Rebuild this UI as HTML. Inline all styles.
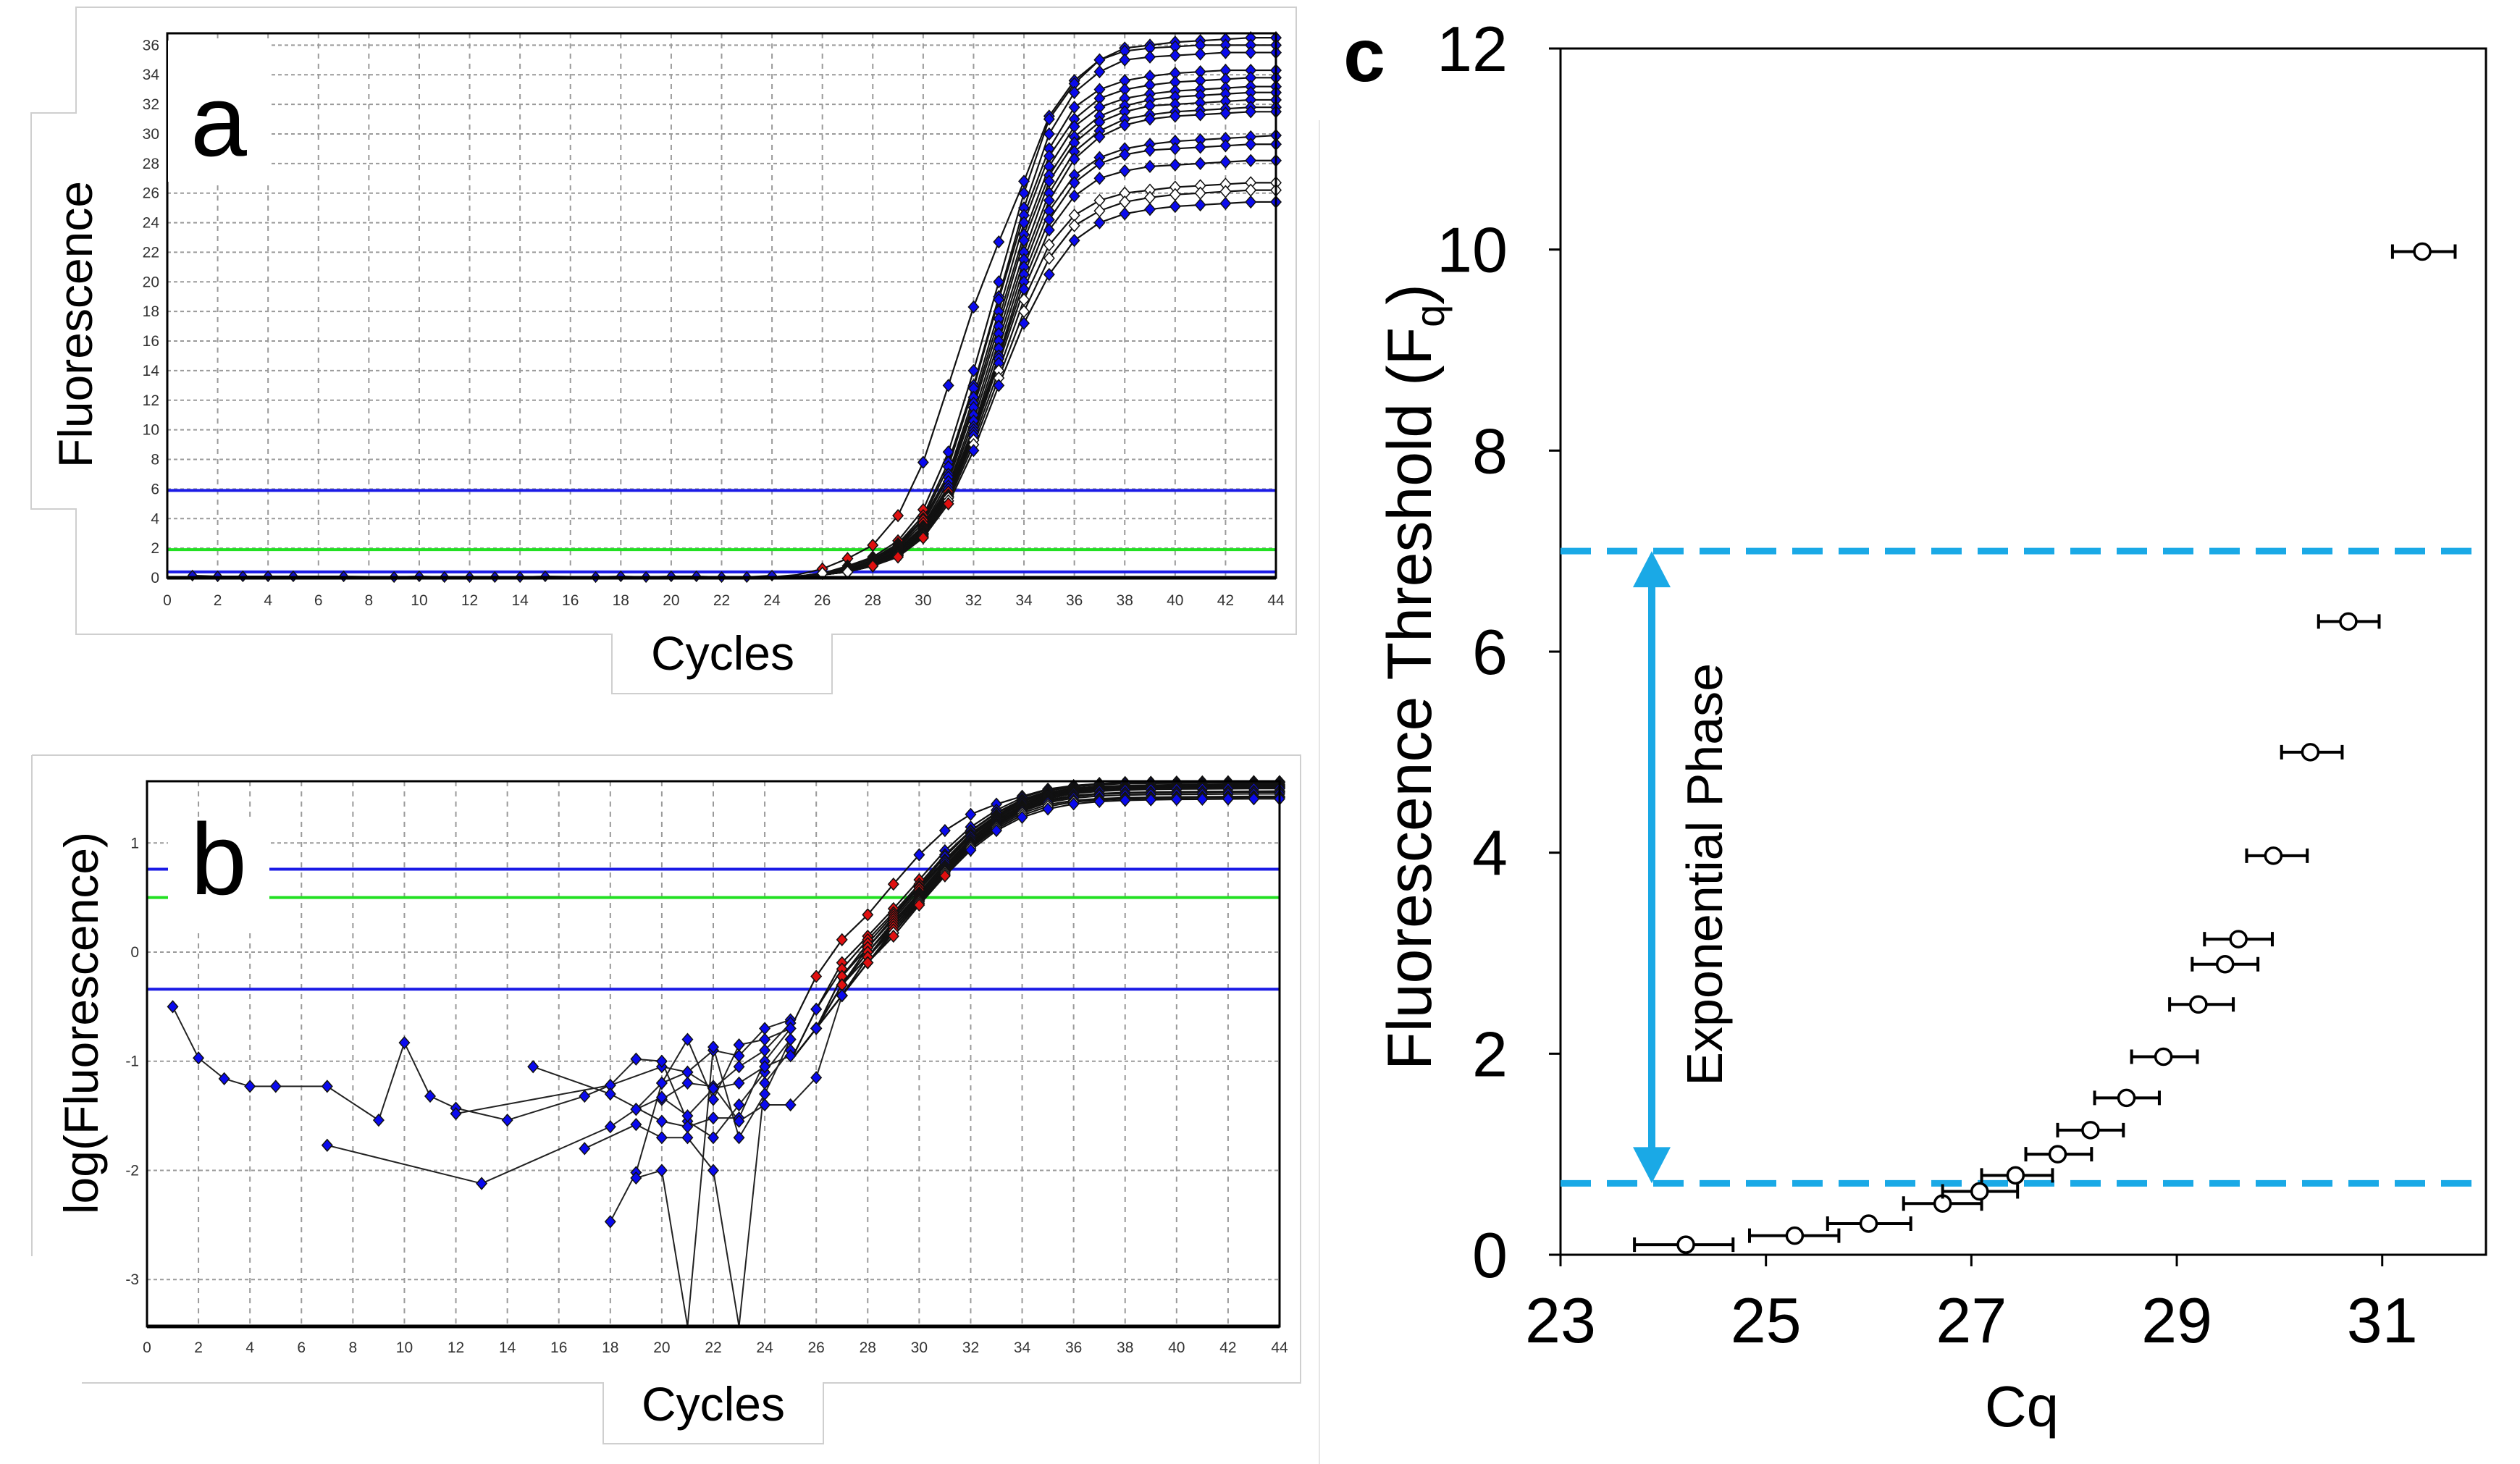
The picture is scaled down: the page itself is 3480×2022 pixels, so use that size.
<!DOCTYPE html>
<html><head><meta charset="utf-8">
<style>
html,body{margin:0;padding:0;background:#fff;}
svg{display:block;}
text{font-family:"Liberation Sans",Arial,sans-serif;}
</style></head>
<body>
<svg id="fig" xmlns="http://www.w3.org/2000/svg" width="3480" height="2022" viewBox="0 0 3480 2022">
  <rect x="0" y="0" width="3480" height="2022" fill="#fff"/>
  <path d="M105,10 H1790 V876 H1149 V958 H845 V876 H105 V703 H43 V156 H105 Z" fill="none" stroke="#cfcfcf" stroke-width="2"/>
  <path d="M44,1043 H1796 V1910 H1137 V1994 H833 V1910 H113 M44,1043 V1735" fill="none" stroke="#cfcfcf" stroke-width="2"/>
  <path d="M1822,166 V2022" fill="none" stroke="#e6e6e6" stroke-width="2"/>
  <g id="pa"></g>
  <g id="pb"></g>
  <g id="pc"></g>
</svg>
<script>
// ---------- Panel a data: fluorescence for cycles 25..44 ----------
const cyclesA = [25,26,27,28,29,30,31,32,33,34,35,36,37,38,39,40,41,42,43,44];
const curve01 = [0.2,0.6,1.3,2.2,4.2,7.8,13,18.3,22.7,26.8,31.2,33.6,35,35.8,36,36.2,36.3,36.4,36.5,36.5];
const curve02 = [0.1,0.3,0.8,1.4,2.5,4.6,8.5,14,20,26,31,33.4,35,35.6,35.8,35.9,36,36,36,36];
const curve03 = [0.1,0.3,0.7,1.3,2.3,4.2,7.8,13,19,25,30,32.8,34.2,35,35.2,35.3,35.4,35.5,35.5,35.5];
const curve04 = [0.1,0.2,0.6,1.2,2.2,4.0,7.5,12.8,18.8,24.5,29,31.8,33,33.6,33.9,34.1,34.2,34.3,34.3,34.3];
const curve05 = [0.1,0.2,0.6,1.1,2.1,3.9,7.0,12.2,18,24,28.5,31,32.4,33,33.3,33.5,33.6,33.7,33.8,33.8];
const curve06 = [0.1,0.2,0.5,1.1,2.0,3.7,6.8,11.8,17.5,23.2,27.8,30.5,31.8,32.4,32.7,32.9,33,33.1,33.2,33.2];
const curve07 = [0.1,0.2,0.5,1.0,1.9,3.5,6.5,11.5,17,22.8,27.2,29.8,31.2,31.9,32.3,32.5,32.6,32.7,32.8,32.8];
const curve08 = [0.1,0.2,0.5,1.0,1.8,3.4,6.2,11,16.5,22,26.8,29.4,30.8,31.5,31.9,32,32.1,32.2,32.3,32.3];
const curve09 = [0.1,0.2,0.5,0.9,1.8,3.3,6.0,10.6,16,21.5,26,28.8,30.2,31,31.3,31.5,31.6,31.7,31.8,31.8];
const curve10 = [0.1,0.2,0.4,0.9,1.7,3.2,5.8,10.2,15.5,21,25.5,28.3,29.8,30.6,31,31.2,31.3,31.4,31.5,31.5];
const curve11 = [0.1,0.2,0.4,0.9,1.7,3.1,5.8,10,15,20.5,24.8,27.2,28.4,29,29.3,29.5,29.6,29.7,29.8,29.9];
const curve12 = [0.1,0.2,0.4,0.9,1.6,3.0,5.6,9.8,14.8,20,24.2,26.7,28,28.6,28.9,29,29.1,29.2,29.3,29.3];
const curve13 = [0.1,0.2,0.4,0.8,1.6,3.0,5.5,9.6,14.5,19.5,23.5,25.8,27,27.5,27.8,27.9,28,28.1,28.2,28.2];
const curve14 = [0.1,0.2,0.4,0.8,1.5,2.9,5.4,9.3,14,18.8,22.5,24.5,25.5,26,26.2,26.4,26.5,26.6,26.7,26.7];
const curve15 = [0.1,0.2,0.4,0.8,1.5,2.8,5.2,9.0,13.5,18,21.6,23.8,24.8,25.4,25.7,25.9,26,26.1,26.2,26.2];
const curve16 = [0.1,0.2,0.4,0.8,1.4,2.7,5.0,8.6,13,17.2,20.5,22.8,24,24.6,24.9,25.1,25.2,25.3,25.4,25.4];
const curvesA = [curve01,curve02,curve03,curve04,curve05,curve06,curve07,curve08,curve09,curve10,curve11,curve12,curve13,curve14,curve15,curve16];
const whiteCurves = [13,14];
const baselineCycles = [1,2,3,4,5,7,9,10,11,12,13,14,15,17,18,19,20,21,22,23,24];
const baselineValue = [0.15,0.1,0.1,0.1,0.1,0.1,0.05,0.1,0.05,0.05,0.05,0.05,0.1,0.05,0.1,0.05,0.1,0.1,0.05,0.05,0.15];
const thresholdsA = [5.9, 1.9, 0.4];
const ticksAX = [0,2,4,6,8,10,12,14,16,18,20,22,24,26,28,30,32,34,36,38,40,42,44];
const ticksAY = [0,2,4,6,8,10,12,14,16,18,20,22,24,26,28,30,32,34,36];

// ---------- Panel b noisy baseline segments: [cycle, log value] ----------
const noise1 = [[1,-0.5],[2,-0.97],[3,-1.16],[4,-1.23],[5,-1.23],[7,-1.23],[9,-1.54],[10,-0.83],[11,-1.32],[12,-1.43],[14,-1.54],[17,-1.32],[18,-1.22],[20,-1.05],[21,-1.1],[22,-0.9],[23,-0.95],[24,-0.7],[25,-0.62]];
const noise2 = [[7,-1.77],[13,-2.12],[18,-1.6],[19,-1.44],[20,-1.2],[21,-1.1],[22,-1.25],[23,-1.05],[24,-0.9],[25,-0.65]];
const noise3 = [[12,-1.48],[18,-1.22],[19,-0.98],[20,-1.0],[21,-1.55],[22,-1.7],[23,-1.4],[24,-1.1],[25,-0.8]];
const noise4 = [[15,-1.05],[18,-1.3],[20,-1.55],[21,-1.6],[22,-1.52],[23,-1.52],[24,-1.0],[25,-0.7]];
const noise5 = [[18,-2.47],[19,-2.02],[20,-1.2],[21,-0.8],[22,-1.35],[23,-0.85],[24,-0.8],[25,-0.7]];
const noise6 = [[19,-2.07],[20,-2.0],[21,-4.0],[22,-0.87],[23,-1.7],[24,-1.3],[25,-0.8]];
const noise7 = [[17,-1.8],[19,-1.58],[20,-1.7],[21,-1.7],[22,-2.0],[23,-4.0],[24,-1.2],[25,-0.9]];
const noise8 = [[20,-1.35],[21,-1.2],[22,-1.23],[23,-1.55],[24,-1.4],[25,-1.4],[26,-1.15],[27,-0.4]];
const noise9 = [[19,-1.44],[20,-1.33],[21,-1.5],[22,-1.25],[23,-1.2],[24,-1.05],[25,-0.95]];
const noisesB = [noise1,noise2,noise3,noise4,noise5,noise6,noise7,noise8,noise9];
const thresholdsB = [0.76, 0.5, -0.34];
const ticksBX = ticksAX;
const ticksBY = [-3,-2,-1,0,1];

// ---------- Panel c data ----------
const cqMean = [24.22,25.28,26.0,26.72,27.08,27.43,27.84,28.16,28.51,28.87,29.21,29.47,29.6,29.94,30.3,30.67,31.39];
const cqLow  = [23.72,24.84,25.6,26.34,26.72,27.1,27.53,27.84,28.2,28.56,28.93,29.15,29.27,29.68,30.02,30.38,31.1];
const cqHigh = [24.68,25.71,26.41,27.1,27.45,27.79,28.17,28.48,28.83,29.2,29.55,29.79,29.93,30.27,30.61,30.97,31.71];
const fqVal  = [0.1,0.19,0.31,0.51,0.63,0.79,1.0,1.24,1.56,1.97,2.49,2.89,3.14,3.97,5.0,6.3,9.98];
const phaseBounds = [0.71, 7.0];
const ticksCX = [23,25,27,29,31];
const ticksCY = [0,2,4,6,8,10,12];

const NS = "http://www.w3.org/2000/svg";
function mk(parent, tag, attrs){ const e=document.createElementNS(NS,tag); for(const k in attrs) e.setAttribute(k,attrs[k]); parent.appendChild(e); return e; }

// ================= Panel A =================
(function(){
  const g = document.getElementById('pa');
  const L=231,R=1762,T=46,B=798, yMax=36.8;
  const sx = c => L + (c/44)*(R-L);
  const sy = v => B - (Math.max(0,Math.min(v,yMax))/yMax)*(B-T);
  for(const t of ticksAX){ if(t===0||t===44) continue;
    const l=mk(g,'line',{x1:sx(t),x2:sx(t),y1:T,y2:B,stroke:'#9a9a9a','stroke-width':2,'stroke-dasharray':'7 7'});
      }
  for(const t of ticksAY){ if(t===0) continue;
    const l=mk(g,'line',{x1:L,x2:R,y1:sy(t),y2:sy(t),stroke:'#9a9a9a','stroke-width':2,'stroke-dasharray':'5 4'});
      }
  for(const t of ticksAX){
    const tx=mk(g,'text',{x:sx(t),y:836,'font-size':21,'text-anchor':'middle',fill:'#333'}); tx.textContent=t;
      }
  for(const t of ticksAY){
    const tx=mk(g,'text',{x:220,y:sy(t)+7,'font-size':21,'text-anchor':'end',fill:'#333'}); tx.textContent=t;
      }
  const tc=['#1a1ae6','#22e022','#1a1ae6'];
  thresholdsA.forEach((v,i)=>{ const l=mk(g,'line',{x1:L,x2:R,y1:sy(v),y2:sy(v),stroke:tc[i],'stroke-width':4});
      });
  const bpts = baselineCycles.map((c,i)=>sx(c)+','+sy(baselineValue[i]));
  const bl=mk(g,'polyline',{points:bpts.join(' '),fill:'none',stroke:'#111','stroke-width':2});
   
  baselineCycles.forEach((c,i)=>{ const m=mk(g,'path',{d:`M${sx(c)},${sy(baselineValue[i])-7} l6,7 l-6,7 l-6,-7z`,fill:'#1414d0',stroke:'#111','stroke-width':1.5});
      });
  curvesA.forEach((cv,k)=>{
    const pts=[sx(24)+','+sy(0.05)].concat(cyclesA.map((c,i)=>sx(c)+','+sy(cv[i])));
    const pl=mk(g,'polyline',{points:pts.join(' '),fill:'none',stroke:'#111','stroke-width':2.2});
     
  });
  curvesA.forEach((cv,k)=>{
    cyclesA.forEach((c,i)=>{ const v=cv[i]; if(v<0.3) return;
      let fill='#0a0aee'; if(v<5.9) fill='#e01010'; if(whiteCurves.includes(k)) fill='#fff';
      if(v<0.5) fill='#fff';
      const x=sx(c), y=sy(v);
      const m=mk(g,'path',{d:`M${x},${y-8} l7,8 l-7,8 l-7,-8z`,fill:fill,stroke:'#111','stroke-width':1.5});
       
    });
  });
  const ax=mk(g,'rect',{x:L,y:T,width:R-L,height:B-T,fill:'none',stroke:'#000','stroke-width':3});
   
  mk(g,'line',{x1:L,x2:R,y1:B,y2:B,stroke:'#000','stroke-width':5});
  const lb=mk(g,'rect',{x:232,y:56,width:140,height:195,fill:'#fff'});
   
  const la=mk(g,'text',{x:302,y:215,'font-size':140,'text-anchor':'middle',fill:'#000'}); la.textContent='a';
   
  const xt=mk(g,'text',{x:998,y:925,'font-size':66,'text-anchor':'middle',fill:'#000'}); xt.textContent='Cycles';
   
  const yt=mk(g,'text',{x:0,y:0,'font-size':66,'text-anchor':'middle',fill:'#000',transform:'translate(127,448) rotate(-90)'}); yt.textContent='Fluorescence';
   
})();

// ================= Panel B =================
(function(){
  const g = document.getElementById('pb');
  const L=203,R=1767,T=1079,B=1832, yTop=1.566, yBot=-3.43;
  const sx = c => L + (c/44)*(R-L);
  const sy = v => T + (yTop-Math.max(yBot,Math.min(v,yTop)))/(yTop-yBot)*(B-T);
  for(const t of ticksBX){ if(t===0||t===44) continue;
    const l=mk(g,'line',{x1:sx(t),x2:sx(t),y1:T,y2:B,stroke:'#9a9a9a','stroke-width':2,'stroke-dasharray':'7 7'});
      }
  for(const t of ticksBY){
    const l=mk(g,'line',{x1:L,x2:R,y1:sy(t),y2:sy(t),stroke:'#9a9a9a','stroke-width':2,'stroke-dasharray':'5 4'});
      }
  for(const t of ticksBX){
    const tx=mk(g,'text',{x:sx(t),y:1868,'font-size':21,'text-anchor':'middle',fill:'#333'}); tx.textContent=t;
      }
  for(const t of ticksBY){
    const tx=mk(g,'text',{x:192,y:sy(t)+7,'font-size':21,'text-anchor':'end',fill:'#333'}); tx.textContent=t;
      }
  const tc=['#1a1ae6','#22e022','#1a1ae6'];
  thresholdsB.forEach((v,i)=>{ const l=mk(g,'line',{x1:L,x2:R,y1:sy(v),y2:sy(v),stroke:tc[i],'stroke-width':4});
      });
  noisesB.forEach((n,k)=>{
    const pl=mk(g,'polyline',{points:n.map(p=>sx(p[0])+','+sy(p[1])).join(' '),fill:'none',stroke:'#222','stroke-width':2});
     
  });
  curvesA.forEach((cv,k)=>{
    const pts=cyclesA.map((c,i)=>sx(c)+','+sy(Math.log10(cv[i])));
    const pl=mk(g,'polyline',{points:pts.join(' '),fill:'none',stroke:'#111','stroke-width':2.2});
     
  });
  noisesB.forEach(n=>{ n.forEach(p=>{ if(p[1]<yBot) return;
    const x=sx(p[0]),y=sy(p[1]);
    const m=mk(g,'path',{d:`M${x},${y-8} l7,8 l-7,8 l-7,-8z`,fill:'#0a0aee',stroke:'#111','stroke-width':1.5});
      }); });
  curvesA.forEach((cv,k)=>{
    cyclesA.forEach((c,i)=>{ const lv=Math.log10(cv[i]); if(lv<-0.7) return;
      let fill='#0a0aee'; if(lv>=-0.34&&lv<0.76) fill='#e01010'; if(whiteCurves.includes(k)) fill='#fff';
      const x=sx(c),y=sy(lv);
      const m=mk(g,'path',{d:`M${x},${y-8} l7,8 l-7,8 l-7,-8z`,fill:fill,stroke:'#111','stroke-width':1.5});
       
    });
  });
  const ax=mk(g,'rect',{x:L,y:T,width:R-L,height:B-T,fill:'none',stroke:'#000','stroke-width':3});
   
  mk(g,'line',{x1:L,x2:R,y1:B,y2:B,stroke:'#000','stroke-width':5});
  const lb=mk(g,'rect',{x:232,y:1130,width:140,height:155,fill:'#fff'});
   
  const la=mk(g,'text',{x:302,y:1235,'font-size':140,'text-anchor':'middle',fill:'#000'}); la.textContent='b';
   
  const xt=mk(g,'text',{x:985,y:1962,'font-size':66,'text-anchor':'middle',fill:'#000'}); xt.textContent='Cycles';
   
  const yt=mk(g,'text',{x:0,y:0,'font-size':66,'text-anchor':'middle',fill:'#000',transform:'translate(135,1413) rotate(-90)'}); yt.textContent='log(Fluorescence)';
   
})();

// ================= Panel C =================
(function(){
  const g = document.getElementById('pc');
  const L=2155,R=3433,T=67,B=1733, x0=23, x1=32.01, yMax=12;
  const sx = c => L + (c-x0)/(x1-x0)*(R-L);
  const sy = v => B - v/yMax*(B-T);
  const ax=mk(g,'rect',{x:L,y:T,width:R-L,height:B-T,fill:'none',stroke:'#000','stroke-width':3});
   
  for(const t of ticksCY){
    mk(g,'line',{x1:L-16,x2:L,y1:sy(t),y2:sy(t),stroke:'#000','stroke-width':3});
    const tx=mk(g,'text',{x:2082,y:sy(t)+31,'font-size':88,'text-anchor':'end',fill:'#000'}); tx.textContent=t;
      }
  for(const t of ticksCX){
    mk(g,'line',{x1:sx(t),x2:sx(t),y1:B,y2:B+16,stroke:'#000','stroke-width':3});
    const tx=mk(g,'text',{x:sx(t),y:1854,'font-size':88,'text-anchor':'middle',fill:'#000'}); tx.textContent=t;
      }
  phaseBounds.forEach(v=>{ const l=mk(g,'line',{x1:L,x2:R,y1:sy(v),y2:sy(v),stroke:'#1aa9e6','stroke-width':9,'stroke-dasharray':'42 22'});
      });
  const axp = 2281, ya=sy(phaseBounds[0]), yb=sy(phaseBounds[1]);
  const sh=mk(g,'line',{x1:axp,x2:axp,y1:yb+45,y2:ya-45,stroke:'#1aa9e6','stroke-width':10});
   
  mk(g,'path',{d:`M${axp},${yb} l26,50 h-52z`,fill:'#1aa9e6'});
  mk(g,'path',{d:`M${axp},${ya} l26,-50 h-52z`,fill:'#1aa9e6'});
  const et=mk(g,'text',{x:0,y:0,'font-size':70,'text-anchor':'middle',fill:'#000',transform:`translate(2378,${(ya+yb)/2+10}) rotate(-90)`}); et.textContent='Exponential  Phase';
   
  cqMean.forEach((m,i)=>{
    const y=sy(fqVal[i]);
    const eb=mk(g,'path',{d:`M${sx(cqLow[i])},${y} H${sx(cqHigh[i])} M${sx(cqLow[i])},${y-10} V${y+10} M${sx(cqHigh[i])},${y-10} V${y+10}`,stroke:'#000','stroke-width':4,fill:'none'});
     
    const c=mk(g,'circle',{cx:sx(m),cy:y,r:11,fill:'#fff',stroke:'#000','stroke-width':3.5});
     
  });
  const xt=mk(g,'text',{x:2792,y:1970,'font-size':80,'text-anchor':'middle',fill:'#000'}); xt.textContent='Cq';
   
  const yt=mk(g,'text',{x:0,y:0,'font-size':86,'text-anchor':'middle',fill:'#000',transform:'translate(1976,935) rotate(-90)'});
  yt.innerHTML='Fluorescence Threshold (F<tspan font-size="56" dy="18">q</tspan><tspan dy="-18">)</tspan>';
   
  const lc=mk(g,'text',{x:1884,y:112,'font-size':104,'font-weight':'bold','text-anchor':'middle',fill:'#000'}); lc.textContent='c';
   
})();
</script>
</body></html>
